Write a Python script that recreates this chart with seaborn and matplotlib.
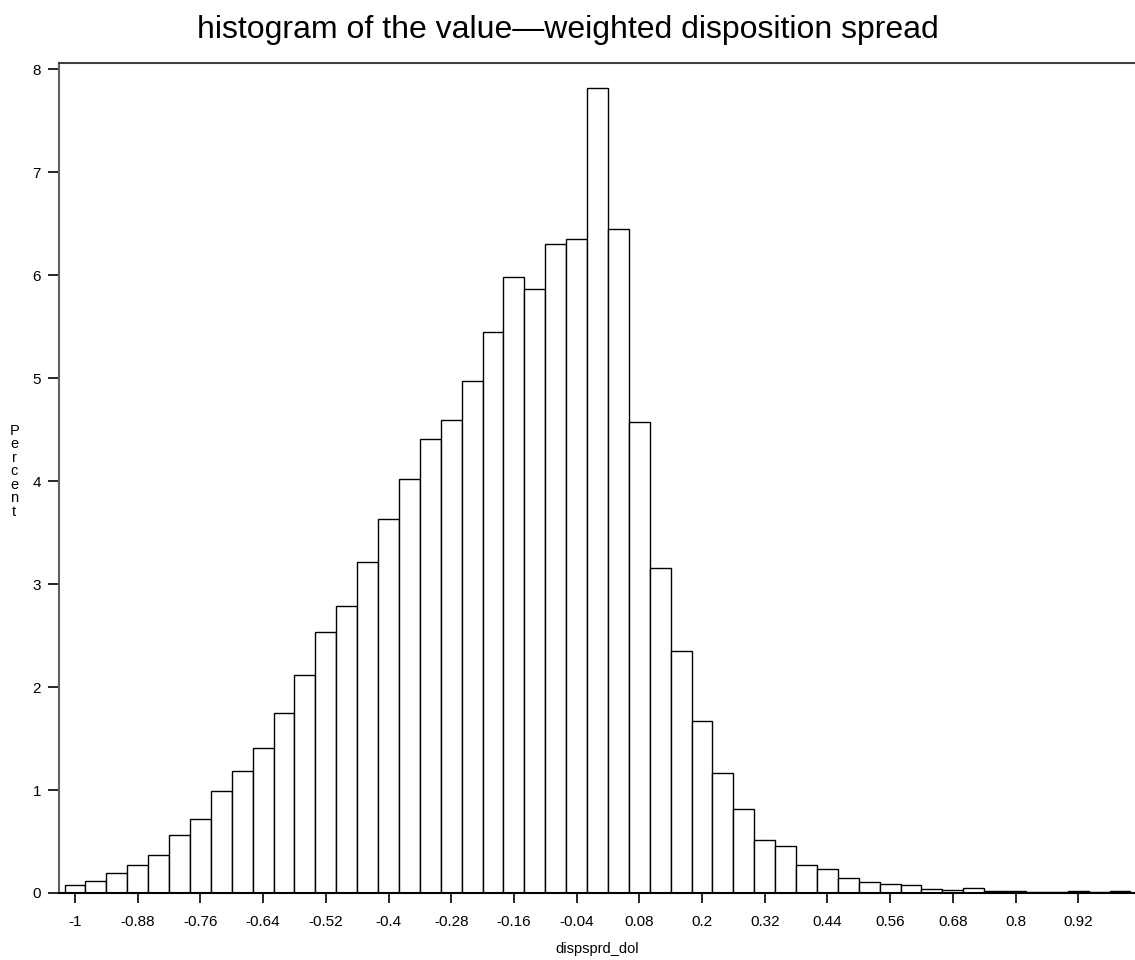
import numpy as np
import pandas as pd
import seaborn as sns
import matplotlib.pyplot as plt

# bin centres of dispsprd_dol (width 0.04) and percent per bin
bin_centers = np.round(np.arange(-1.0, 1.0001, 0.04), 2)
percent = [0.08, 0.12, 0.19, 0.27, 0.37, 0.56, 0.72, 0.99, 1.18, 1.41,
           1.75, 2.12, 2.53, 2.79, 3.21, 3.63, 4.02, 4.41, 4.59, 4.97,
           5.45, 5.98, 5.87, 6.30, 6.35, 7.82, 6.45, 4.57, 3.16, 2.35,
           1.67, 1.17, 0.82, 0.51, 0.46, 0.27, 0.23, 0.145, 0.11, 0.09,
           0.08, 0.04, 0.025, 0.05, 0.02, 0.02, 0.01, 0.01, 0.02, 0.01,
           0.02]
x_ticks = [-1, -0.88, -0.76, -0.64, -0.52, -0.4, -0.28, -0.16, -0.04,
           0.08, 0.2, 0.32, 0.44, 0.56, 0.68, 0.8, 0.92]
y_ticks = [0, 1, 2, 3, 4, 5, 6, 7, 8]

df = pd.DataFrame({"dispsprd_dol": bin_centers, "pct": percent})

sns.set_style("white")
plt.rcParams['font.family'] = ['Liberation Sans', 'DejaVu Sans']
plt.rcParams['text.color'] = 'black'
plt.rcParams['axes.labelcolor'] = 'black'

fig = plt.figure(figsize=(11.35, 9.6), dpi=100)
ax = fig.add_axes([0.052, 0.0698, 0.948, 0.8646])

edges = list(np.linspace(-1.02, 1.02, 52))
sns.histplot(data=df, x="dispsprd_dol", weights="pct", bins=edges, ax=ax,
             color="white", edgecolor="black", linewidth=1.0, alpha=1)

ax.set_xlim(-1.0306, 1.0287)
ax.set_ylim(0, 8.06)
ax.set_xticks(x_ticks)
ax.set_xticklabels([f"{t:g}" for t in x_ticks])
ax.set_yticks(y_ticks)
ax.tick_params(axis="both", direction="out", length=8, width=1.2,
               labelsize=11, colors="black", left=True, bottom=True)
ax.tick_params(axis="x", length=7, pad=9)
ax.tick_params(axis="y", pad=5)

for s in ["left", "top", "bottom"]:
    ax.spines[s].set_visible(True)
    ax.spines[s].set_linewidth(1.5)
ax.spines["left"].set_color("#606060")
ax.spines["top"].set_color("#404040")
ax.spines["bottom"].set_color("black")
ax.spines["right"].set_visible(False)

ax.set_xlabel("dispsprd_dol", fontsize=10.5, labelpad=9)
ax.set_ylabel("")
fig.text(0.0125, 0.509, "\n".join("Percent"), fontsize=10.5,
         ha="center", va="center", linespacing=0.95)

fig.text(0.5, 0.969, "histogram of the value\u2014weighted disposition spread",
         fontsize=23, ha="center", va="center")

fig.savefig("out.png", dpi=100, facecolor="white")
